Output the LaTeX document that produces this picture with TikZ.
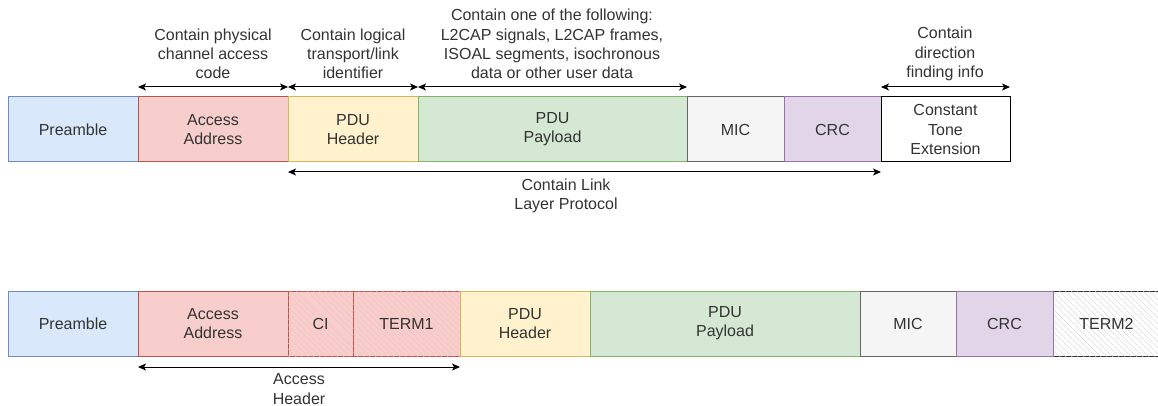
\documentclass[tikz,border=0pt]{standalone}
\usepackage{fontspec}
\setmainfont{Liberation Sans}
\usetikzlibrary{arrows.meta,patterns.meta}

% draw.io style palette
\definecolor{blfill}{HTML}{DAE8FC}\definecolor{blline}{HTML}{6C8EBF}
\definecolor{rdfill}{HTML}{F8CECC}\definecolor{rdline}{HTML}{B85450}
\definecolor{ylfill}{HTML}{FFF2CC}\definecolor{ylline}{HTML}{D6B656}
\definecolor{gnfill}{HTML}{D5E8D4}\definecolor{gnline}{HTML}{82B366}
\definecolor{gyfill}{HTML}{F5F5F5}\definecolor{gyline}{HTML}{666666}
\definecolor{ppfill}{HTML}{E1D5E7}\definecolor{ppline}{HTML}{9673A6}
\definecolor{txt}{HTML}{333333}
\colorlet{hatchred}{rdfill!88!rdline}
\colorlet{hatchgray}{black!18}

\newcommand\pktfont{\fontsize{16}{19.2}\selectfont}

\tikzset{
  field/.style={rectangle, anchor=north west, minimum height=65pt,
    inner sep=0pt, outer sep=0pt, align=center, font=\pktfont,
    text=txt, line width=1pt},
  blue/.style={field, fill=blfill, draw=blline},
  red/.style={field, fill=rdfill, draw=rdline},
  yellow/.style={field, fill=ylfill, draw=ylline},
  green/.style={field, fill=gnfill, draw=gnline},
  grey/.style={field, fill=gyfill, draw=gyline},
  purple/.style={field, fill=ppfill, draw=ppline},
  plain/.style={field, fill=white, draw=black},
  hatched/.style={postaction={pattern={Lines[angle=-45,distance=4pt,line width=0.5pt]}, pattern color=#1}},
  lbl/.style={align=center, font=\pktfont, text=txt, inner sep=0pt},
  span/.style={{Stealth[length=8pt,width=7pt,inset=2pt]}-{Stealth[length=8pt,width=7pt,inset=2pt]},
    line width=1pt, black}
}

\begin{document}
\begin{tikzpicture}[x=1pt,y=-1pt]
\useasboundingbox (0,0) rectangle (1158,406);

% ---- first packet layout ----
\node[blue,   minimum width=130] (pre1) at (8,97)   {Preamble};
\node[red,    minimum width=150] (aa1)  at (138,97) {Access\\Address};
\node[yellow, minimum width=130] (hd1)  at (288,97) {PDU\\Header};
\node[green,  minimum width=269] (pl1)  at (418,97) {PDU\\Payload};
\node[grey,   minimum width=97]  (mic1) at (687,97) {MIC};
\node[purple, minimum width=97]  (crc1) at (784,97) {CRC};
\node[plain,  minimum width=129] (cte1) at (881,97) {Constant\\Tone\\Extension};

\draw[span] ([yshift=10pt]aa1.north west)  -- ([yshift=10pt]aa1.north east);
\draw[span] ([yshift=10pt]hd1.north west)  -- ([yshift=10pt]hd1.north east);
\draw[span] ([yshift=10pt]pl1.north west)  -- ([yshift=10pt]pl1.north east);
\draw[span] ([yshift=10pt]cte1.north west) -- ([yshift=10pt]cte1.north east);
\draw[span] ([yshift=-10pt]hd1.south west) -- ([yshift=-10pt]crc1.south east);

\node[lbl] (laa) at (213,54) {Contain physical\\channel access\\code};
\node[lbl] (lhd) at (353,54) {Contain logical\\transport/link\\identifier};
\node[lbl] (lpl) at (552,44) {Contain one of the following:\\L2CAP signals, L2CAP frames,\\ISOAL segments, isochronous\\data or other user data};
\node[lbl] (lcte) at (945,54) {Contain\\direction\\finding info};
\node[lbl] (lll) at (566,196) {Contain Link\\Layer Protocol};

% ---- second packet layout ----
\node[blue,   minimum width=130] (pre2) at (8,291)   {Preamble};
\node[red,    minimum width=150] (aa2)  at (138,291) {Access\\Address};
\node[red, hatched=hatchred, minimum width=65]  (ci2) at (288,291) {CI};
\node[red, hatched=hatchred, minimum width=107] (tm1) at (353,291) {TERM1};
\node[yellow, minimum width=130] (hd2)  at (460,291) {PDU\\Header};
\node[green,  minimum width=270] (pl2)  at (590,291) {PDU\\Payload};
\node[grey,   minimum width=96]  (mic2) at (860,291) {MIC};
\node[field, fill=white, draw=txt, hatched=hatchgray, minimum width=107] (tm2) at (1053,291) {TERM2};
\node[purple, minimum width=97]  (crc2) at (956,291) {CRC};

\draw[span] ([yshift=-11pt]aa2.south west) -- ([yshift=-11pt]tm1.south east);
\node[lbl] (lah) at (299,389) {Access\\Header};
\end{tikzpicture}
\end{document}
